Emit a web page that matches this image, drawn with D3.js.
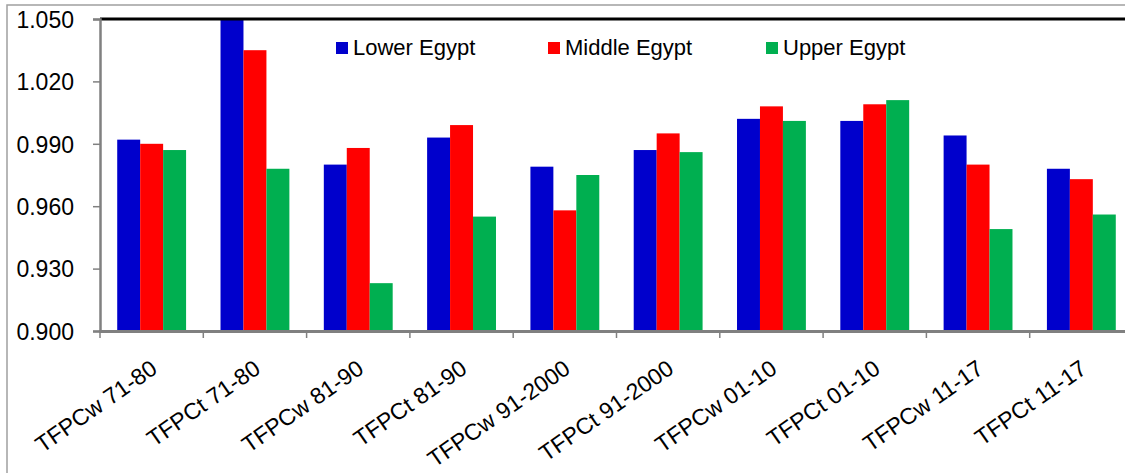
<!DOCTYPE html>
<html>
<head>
<meta charset="utf-8">
<script src="https://cdn.jsdelivr.net/npm/d3@7"></script>
<style>
  html, body { margin: 0; padding: 0; background: #fff; }
  svg { display: block; font-family: "Liberation Sans", Arial, sans-serif; }
</style>
</head>
<body>
<svg id="chart" width="1125" height="473"></svg>
<script>
// Period labels on the category axis
const categories = [
  "TFPCw 71-80", "TFPCt 71-80", "TFPCw 81-90", "TFPCt 81-90",
  "TFPCw 91-2000", "TFPCt 91-2000", "TFPCw 01-10", "TFPCt 01-10",
  "TFPCw 11-17", "TFPCt 11-17"
];
const seriesNames = ["Lower Egypt", "Middle Egypt", "Upper Egypt"];
const lowerEgypt  = [0.992, 1.050, 0.980, 0.993, 0.979, 0.987, 1.002, 1.001, 0.994, 0.978];
const middleEgypt = [0.990, 1.035, 0.988, 0.999, 0.958, 0.995, 1.008, 1.009, 0.980, 0.973];
const upperEgypt  = [0.987, 0.978, 0.923, 0.955, 0.975, 0.986, 1.001, 1.011, 0.949, 0.956];
const yTicks = [0.900, 0.930, 0.960, 0.990, 1.020, 1.050];
const colors = ["#0000CC", "#FF0000", "#00AF50"];

const series = [lowerEgypt, middleEgypt, upperEgypt];

const svg = d3.select("#chart");
const plot = { left: 100, right: 1133, top: 19, bottom: 331 };

// Outer frame
svg.append("rect")
  .attr("x", 7).attr("y", 5)
  .attr("width", 1140).attr("height", 480)
  .attr("fill", "none").attr("stroke", "#a0a0a0").attr("stroke-width", 1.5);

const x0 = d3.scaleBand().domain(categories).range([plot.left, plot.right]).paddingInner(0).paddingOuter(0);
const x1 = d3.scaleBand().domain(d3.range(series.length))
  .range([0, x0.bandwidth()]).paddingOuter(0.75).paddingInner(0);
const y = d3.scaleLinear().domain([0.900, 1.050]).range([plot.bottom, plot.top]);

svg.append("clipPath").attr("id", "plotClip")
  .append("rect").attr("x", plot.left).attr("y", plot.top)
  .attr("width", plot.right - plot.left).attr("height", plot.bottom - plot.top);

// Bars
const barsG = svg.append("g").attr("clip-path", "url(#plotClip)");
categories.forEach((c, i) => {
  series.forEach((s, k) => {
    barsG.append("rect")
      .attr("x", x0(c) + x1(k))
      .attr("y", y(s[i]))
      .attr("width", x1.bandwidth())
      .attr("height", y(0.900) - y(s[i]))
      .attr("fill", colors[k]);
  });
});

// Top border of the plot area
svg.append("line")
  .attr("x1", plot.left).attr("x2", plot.right)
  .attr("y1", plot.top).attr("y2", plot.top)
  .attr("stroke", "#000").attr("stroke-width", 3);

// Y axis
const yAxis = d3.axisLeft(y).tickValues(yTicks).tickFormat(d3.format(".3f")).tickSize(7).tickPadding(19);
const yg = svg.append("g").attr("transform", `translate(${plot.left},0)`).call(yAxis);
yg.select(".domain").attr("stroke", "#808080").attr("stroke-width", 2.5);
yg.selectAll(".tick line").attr("stroke", "#808080").attr("stroke-width", 1.5);
yg.selectAll(".tick text").attr("font-size", 23).attr("fill", "#000")
  .attr("font-family", "Liberation Sans, Arial, sans-serif").attr("dy", "0.36em");

// X axis with ticks at category boundaries
const xg = svg.append("g");
xg.append("line")
  .attr("x1", plot.left - 1).attr("x2", plot.right)
  .attr("y1", plot.bottom + 0.5).attr("y2", plot.bottom + 0.5)
  .attr("stroke", "#808080").attr("stroke-width", 3);
xg.selectAll("line.tk").data(categories).enter().append("line")
  .attr("class", "tk")
  .attr("x1", d => x0(d)).attr("x2", d => x0(d))
  .attr("y1", plot.bottom).attr("y2", plot.bottom + 7)
  .attr("stroke", "#808080").attr("stroke-width", 1.5);
xg.selectAll("text").data(categories).enter().append("text")
  .attr("transform", d => `translate(${x0(d) + x0.bandwidth() / 2 + 7},${plot.bottom + 41}) rotate(-35)`)
  .attr("text-anchor", "end")
  .attr("font-size", 23)
  .attr("fill", "#000")
  .text(d => d);

// Legend
const legendX = [336, 548, 766];
const lg = svg.append("g");
seriesNames.forEach((name, k) => {
  lg.append("rect")
    .attr("x", legendX[k]).attr("y", 42)
    .attr("width", 12).attr("height", 12)
    .attr("fill", colors[k]);
  lg.append("text")
    .attr("x", legendX[k] + 17).attr("y", 55)
    .attr("font-size", 22).attr("fill", "#000")
    .text(name);
});
</script>
</body>
</html>
